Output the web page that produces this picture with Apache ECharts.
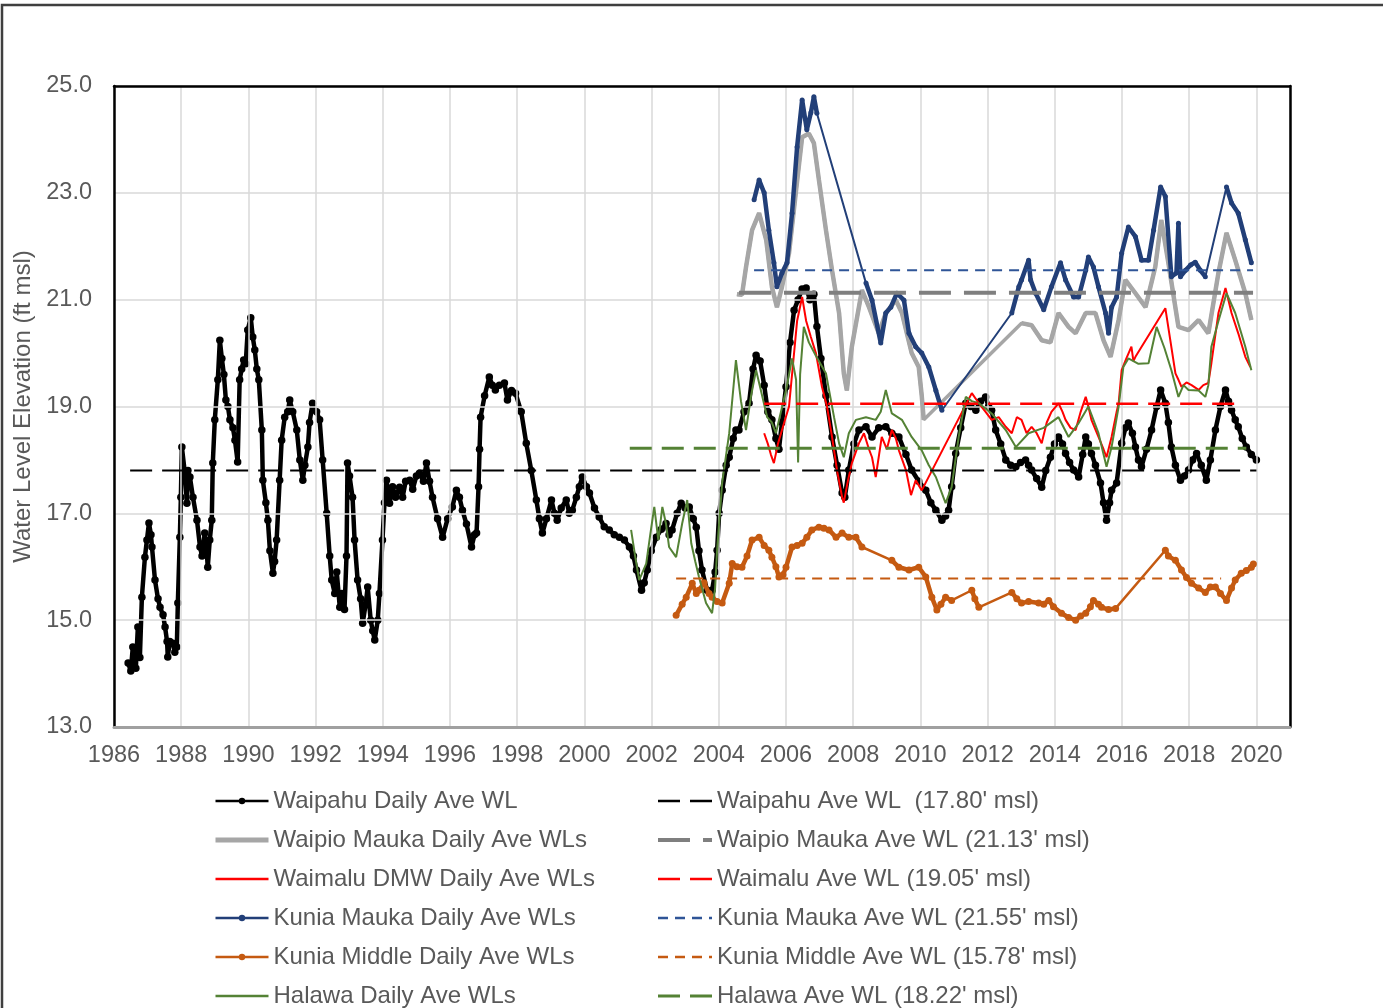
<!DOCTYPE html>
<html>
<head>
<meta charset="utf-8">
<script src="https://cdn.jsdelivr.net/npm/echarts@6/dist/echarts.min.js"></script>
<style>
html,body{margin:0;padding:0;background:#fff;}
#c{width:1383px;height:1008px;}
</style>
</head>
<body>
<div id="c"></div>
<script>
// ---- Axis settings ----
const xMin = 1986, xMax = 2021, xStep = 2;
const yMin = 13, yMax = 25, yStep = 2;

// ---- Series names ----
const dailyNames = ["Waipahu Daily Ave WL","Waipio Mauka Daily Ave WLs","Waimalu DMW Daily Ave WLs","Kunia Mauka Daily Ave WLs","Kunia Middle Daily Ave WLs","Halawa Daily Ave WLs"];
const aveNames = ["Waipahu Ave WL  (17.80' msl)","Waipio Mauka Ave WL (21.13' msl)","Waimalu Ave WL (19.05' msl)","Kunia Mauka Ave WL (21.55' msl)","Kunia Middle Ave WL (15.78' msl)","Halawa Ave WL (18.22' msl)"];

// ---- Average levels and their spans [start, end] ----
const aveLevels = [17.80, 21.13, 19.05, 21.55, 15.78, 18.22];
const aveSpans = [[1986.48,2020.0],[2004.6,2019.9],[2005.35,2019.46],[2005.05,2019.9],[2002.73,2018.95],[2001.35,2019.7]];

// ---- Daily series (year, water level ft msl) ----
const waipahu = [[1986.42,14.2],[1986.50,14.05],[1986.56,14.5],[1986.65,14.1],[1986.71,14.87],[1986.77,14.3],[1986.83,15.43],[1986.92,16.18],[1986.98,16.5],[1987.04,16.82],[1987.10,16.6],[1987.13,16.37],[1987.22,15.75],[1987.31,15.4],[1987.37,15.24],[1987.46,15.1],[1987.52,14.87],[1987.58,14.6],[1987.60,14.31],[1987.66,14.6],[1987.75,14.57],[1987.81,14.4],[1987.87,14.5],[1987.90,15.32],[1987.96,16.55],[1987.99,17.3],[1988.02,18.24],[1988.11,17.75],[1988.17,17.19],[1988.20,17.8],[1988.26,17.68],[1988.35,17.3],[1988.47,16.87],[1988.56,16.37],[1988.62,16.2],[1988.70,16.63],[1988.76,16.3],[1988.79,15.99],[1988.85,16.5],[1988.91,16.87],[1988.94,17.94],[1989.00,18.75],[1989.09,19.5],[1989.15,20.24],[1989.21,19.9],[1989.27,19.6],[1989.33,19.12],[1989.39,19.0],[1989.45,18.75],[1989.54,18.6],[1989.60,18.37],[1989.68,17.96],[1989.74,19.5],[1989.80,19.7],[1989.86,19.87],[1989.92,19.8],[1989.98,20.43],[1990.07,20.66],[1990.13,20.3],[1990.19,20.06],[1990.25,19.7],[1990.31,19.5],[1990.40,18.56],[1990.43,17.62],[1990.52,17.2],[1990.58,16.87],[1990.64,16.3],[1990.73,15.88],[1990.78,16.1],[1990.84,16.5],[1990.93,17.62],[1990.99,18.37],[1991.08,18.8],[1991.17,18.9],[1991.23,19.12],[1991.32,18.9],[1991.44,18.56],[1991.53,18.0],[1991.62,17.62],[1991.68,17.9],[1991.77,18.24],[1991.82,18.7],[1991.91,19.06],[1992.03,18.9],[1992.12,18.75],[1992.21,18.0],[1992.33,17.0],[1992.42,16.2],[1992.48,15.75],[1992.57,15.5],[1992.63,15.9],[1992.72,15.24],[1992.78,15.5],[1992.86,15.2],[1992.92,16.2],[1992.95,17.94],[1993.01,17.7],[1993.10,17.3],[1993.16,16.5],[1993.25,15.75],[1993.34,15.4],[1993.40,14.94],[1993.49,15.3],[1993.55,15.62],[1993.64,15.0],[1993.70,14.8],[1993.76,14.63],[1993.85,15.0],[1993.90,15.5],[1993.99,16.5],[1994.05,17.2],[1994.11,17.62],[1994.20,17.19],[1994.29,17.5],[1994.38,17.3],[1994.50,17.49],[1994.59,17.3],[1994.68,17.6],[1994.80,17.62],[1994.89,17.45],[1995.00,17.7],[1995.09,17.75],[1995.21,17.6],[1995.30,17.94],[1995.39,17.6],[1995.48,17.3],[1995.63,16.9],[1995.78,16.55],[1995.93,16.9],[1996.07,17.12],[1996.19,17.43],[1996.28,17.3],[1996.37,17.06],[1996.49,16.8],[1996.64,16.37],[1996.73,16.6],[1996.79,16.63],[1996.85,17.5],[1996.88,18.2],[1996.91,18.8],[1997.03,19.2],[1997.17,19.55],[1997.26,19.4],[1997.35,19.31],[1997.47,19.4],[1997.62,19.44],[1997.71,19.12],[1997.83,19.3],[1997.95,19.25],[1998.12,18.9],[1998.27,18.31],[1998.42,17.8],[1998.57,17.25],[1998.66,16.9],[1998.75,16.63],[1998.87,16.9],[1999.02,17.25],[1999.11,17.0],[1999.19,16.87],[1999.31,17.1],[1999.46,17.25],[1999.55,17.0],[1999.64,17.06],[1999.76,17.3],[1999.85,17.5],[1999.94,17.68],[2000.06,17.5],[2000.15,17.38],[2000.30,17.1],[2000.44,16.93],[2000.59,16.75],[2000.74,16.69],[2000.89,16.6],[2001.04,16.55],[2001.19,16.5],[2001.34,16.37],[2001.46,16.2],[2001.55,15.94],[2001.70,15.56],[2001.78,15.7],[2001.87,15.94],[2001.99,16.3],[2002.14,16.55],[2002.29,16.7],[2002.43,16.81],[2002.52,16.6],[2002.61,16.69],[2002.76,17.0],[2002.88,17.19],[2003.00,17.1],[2003.12,17.12],[2003.24,16.9],[2003.33,16.74],[2003.41,16.3],[2003.50,15.94],[2003.65,15.56],[2003.80,15.56],[2003.89,15.9],[2003.95,16.31],[2004.01,17.0],[2004.10,17.43],[2004.22,17.9],[2004.31,18.05],[2004.43,18.4],[2004.51,18.56],[2004.60,18.56],[2004.75,18.9],[2004.90,19.06],[2005.02,19.7],[2005.11,19.96],[2005.23,19.85],[2005.35,19.4],[2005.46,18.9],[2005.58,18.75],[2005.70,18.4],[2005.79,18.2],[2005.88,18.7],[2006.00,19.37],[2006.12,20.2],[2006.24,20.8],[2006.36,21.0],[2006.48,21.2],[2006.60,21.22],[2006.71,21.0],[2006.83,21.1],[2006.92,20.5],[2007.04,19.9],[2007.19,19.2],[2007.37,18.43],[2007.52,17.9],[2007.67,17.38],[2007.75,17.3],[2007.87,17.81],[2008.02,18.3],[2008.17,18.56],[2008.38,18.62],[2008.56,18.43],[2008.76,18.6],[2008.97,18.62],[2009.15,18.5],[2009.36,18.43],[2009.57,18.1],[2009.74,17.81],[2009.95,17.6],[2010.16,17.43],[2010.31,17.2],[2010.46,17.06],[2010.64,16.87],[2010.75,16.95],[2010.84,17.06],[2010.93,17.5],[2011.05,18.12],[2011.20,18.6],[2011.35,19.06],[2011.50,19.0],[2011.65,18.93],[2011.79,19.1],[2011.94,19.18],[2012.03,19.0],[2012.12,18.93],[2012.24,18.56],[2012.39,18.3],[2012.54,18.0],[2012.69,17.9],[2012.84,17.87],[2012.98,17.95],[2013.13,18.0],[2013.22,17.9],[2013.31,17.81],[2013.46,17.65],[2013.61,17.49],[2013.73,17.8],[2013.87,18.05],[2013.99,18.3],[2014.11,18.43],[2014.23,18.3],[2014.32,18.12],[2014.44,17.95],[2014.56,17.81],[2014.71,17.68],[2014.83,18.1],[2014.92,18.43],[2015.00,18.3],[2015.09,18.12],[2015.21,17.9],[2015.36,17.57],[2015.45,17.2],[2015.54,16.87],[2015.63,17.2],[2015.69,17.43],[2015.84,17.57],[2015.99,18.31],[2016.10,18.6],[2016.19,18.69],[2016.31,18.5],[2016.40,18.24],[2016.49,18.0],[2016.58,17.87],[2016.73,18.2],[2016.88,18.56],[2017.03,19.0],[2017.15,19.31],[2017.29,19.06],[2017.38,18.7],[2017.47,18.24],[2017.59,17.9],[2017.74,17.62],[2017.86,17.7],[2017.98,17.81],[2018.10,18.0],[2018.22,18.12],[2018.36,17.9],[2018.51,17.62],[2018.63,18.0],[2018.78,18.56],[2018.93,19.0],[2019.08,19.31],[2019.17,19.1],[2019.26,18.93],[2019.37,18.75],[2019.46,18.62],[2019.58,18.4],[2019.70,18.24],[2019.85,18.1],[2020.00,18.0]];

const waipioMauka = [[2004.54,21.1],[2004.69,21.09],[2004.81,21.61],[2004.99,22.3],[2005.20,22.62],[2005.41,22.12],[2005.58,21.24],[2005.73,20.86],[2005.88,21.24],[2006.09,21.87],[2006.30,23.05],[2006.48,24.04],[2006.68,24.11],[2006.83,23.93],[2006.98,23.24],[2007.19,22.3],[2007.37,21.55],[2007.58,20.75],[2007.72,19.62],[2007.81,19.3],[2007.96,20.12],[2008.26,21.18],[2008.47,20.86],[2008.76,20.37],[2008.97,20.75],[2009.27,20.99],[2009.45,20.75],[2009.74,20.0],[2009.95,19.74],[2010.04,19.2],[2010.10,18.75],[2013.01,20.56],[2013.31,20.52],[2013.61,20.24],[2013.87,20.2],[2014.11,20.75],[2014.41,20.49],[2014.62,20.37],[2014.92,20.75],[2015.21,20.75],[2015.45,20.24],[2015.66,19.93],[2015.90,20.62],[2016.10,21.37],[2016.40,21.12],[2016.70,20.86],[2016.99,21.61],[2017.17,22.49],[2017.38,21.69],[2017.68,20.49],[2017.98,20.43],[2018.28,20.62],[2018.57,20.37],[2018.87,21.5],[2019.11,22.25],[2019.37,21.74],[2019.67,21.12],[2019.85,20.62]];

const waimalu = [[2005.35,18.5],[2005.46,18.3],[2005.55,18.1],[2005.64,17.94],[2005.76,18.3],[2005.88,18.56],[2006.09,19.0],[2006.21,19.8],[2006.33,20.6],[2006.48,21.05],[2006.60,20.6],[2006.74,20.3],[2006.89,20.0],[2007.07,19.37],[2007.22,19.0],[2007.37,18.43],[2007.52,17.8],[2007.67,17.3],[2007.72,17.2],[2007.84,17.6],[2007.96,17.94],[2008.17,18.31],[2008.32,18.5],[2008.47,18.2],[2008.56,18.05],[2008.67,17.68],[2008.85,18.43],[2009.00,18.2],[2009.15,18.56],[2009.27,18.4],[2009.36,18.18],[2009.57,17.81],[2009.72,17.34],[2009.86,17.62],[2010.04,17.43],[2011.53,19.25],[2011.74,19.06],[2011.94,18.9],[2012.12,18.75],[2012.33,18.8],[2012.54,18.62],[2012.72,18.5],[2012.87,18.8],[2013.01,18.75],[2013.16,18.5],[2013.31,18.62],[2013.46,18.5],[2013.61,18.31],[2013.76,18.7],[2013.90,18.9],[2014.11,19.06],[2014.23,18.9],[2014.32,18.75],[2014.47,18.6],[2014.62,18.56],[2014.77,18.9],[2014.92,19.18],[2015.00,19.0],[2015.09,18.75],[2015.30,18.43],[2015.45,18.2],[2015.54,18.05],[2015.69,18.43],[2015.84,18.9],[2015.90,19.06],[2015.99,19.68],[2016.13,19.9],[2016.28,20.12],[2016.34,19.85],[2016.40,19.93],[2017.29,20.84],[2017.59,19.62],[2017.68,19.5],[2017.77,19.37],[2017.92,19.45],[2018.07,19.4],[2018.28,19.31],[2018.42,19.4],[2018.57,19.44],[2018.66,19.81],[2018.87,20.75],[2019.08,21.22],[2019.26,20.75],[2019.46,20.37],[2019.67,19.93],[2019.82,19.74]];

const kuniaMauka = [[2005.05,22.87],[2005.20,23.24],[2005.35,23.0],[2005.49,22.3],[2005.64,21.69],[2005.73,21.24],[2005.88,21.5],[2006.03,21.69],[2006.18,22.62],[2006.33,23.86],[2006.48,24.74],[2006.62,24.18],[2006.74,24.5],[2006.83,24.8],[2006.92,24.49],[2008.38,21.31],[2008.56,20.99],[2008.82,20.19],[2008.97,20.75],[2009.12,20.86],[2009.30,21.12],[2009.51,20.99],[2009.66,20.37],[2009.86,20.12],[2010.04,20.0],[2010.25,19.74],[2010.46,19.3],[2010.64,18.93],[2012.72,20.75],[2012.93,21.24],[2013.01,21.37],[2013.22,21.74],[2013.28,21.37],[2013.43,21.12],[2013.67,20.81],[2013.90,21.24],[2014.17,21.69],[2014.32,21.37],[2014.56,21.05],[2014.71,21.05],[2014.92,21.55],[2015.00,21.8],[2015.15,21.61],[2015.30,21.24],[2015.51,20.75],[2015.60,20.37],[2015.69,20.86],[2015.84,21.05],[2015.99,21.87],[2016.19,22.36],[2016.40,22.18],[2016.58,21.74],[2016.79,21.74],[2016.94,22.3],[2017.15,23.11],[2017.29,22.93],[2017.47,21.43],[2017.62,21.5],[2017.68,22.43],[2017.74,21.43],[2017.89,21.55],[2018.04,21.65],[2018.18,21.7],[2018.33,21.55],[2018.48,21.43],[2019.11,23.11],[2019.26,22.81],[2019.46,22.62],[2019.67,22.12],[2019.85,21.69]];

const kuniaMiddle = [[2002.73,15.09],[2002.91,15.3],[2003.03,15.43],[2003.21,15.69],[2003.33,15.5],[2003.41,15.56],[2003.56,15.7],[2003.71,15.5],[2003.80,15.43],[2003.95,15.35],[2004.10,15.32],[2004.31,15.69],[2004.40,16.06],[2004.54,16.0],[2004.69,15.99],[2004.84,16.2],[2004.99,16.5],[2005.20,16.55],[2005.35,16.4],[2005.49,16.31],[2005.58,16.18],[2005.70,16.0],[2005.79,15.81],[2005.91,15.85],[2006.00,15.99],[2006.18,16.37],[2006.33,16.4],[2006.48,16.44],[2006.62,16.55],[2006.77,16.69],[2006.98,16.74],[2007.13,16.72],[2007.28,16.69],[2007.49,16.55],[2007.67,16.63],[2007.87,16.55],[2008.08,16.55],[2008.26,16.37],[2009.15,16.12],[2009.36,15.99],[2009.66,15.94],[2009.95,15.99],[2010.16,15.81],[2010.34,15.43],[2010.49,15.19],[2010.61,15.3],[2010.75,15.43],[2010.93,15.37],[2011.53,15.56],[2011.62,15.4],[2011.74,15.24],[2012.72,15.52],[2012.87,15.4],[2013.01,15.32],[2013.22,15.35],[2013.52,15.32],[2013.67,15.3],[2013.82,15.37],[2013.96,15.25],[2014.20,15.13],[2014.41,15.05],[2014.62,15.0],[2014.77,15.08],[2014.92,15.13],[2015.06,15.25],[2015.15,15.37],[2015.30,15.3],[2015.39,15.24],[2015.60,15.2],[2015.81,15.22],[2017.29,16.31],[2017.38,16.2],[2017.59,16.12],[2017.77,15.94],[2017.92,15.8],[2018.07,15.69],[2018.28,15.6],[2018.48,15.52],[2018.63,15.62],[2018.78,15.62],[2018.93,15.5],[2019.11,15.37],[2019.26,15.6],[2019.37,15.75],[2019.55,15.88],[2019.70,15.93],[2019.85,15.99],[2019.91,16.05]];

const halawa = [[2001.39,16.69],[2001.51,16.2],[2001.63,15.75],[2001.84,16.06],[2001.96,16.6],[2002.08,17.12],[2002.20,16.5],[2002.32,17.12],[2002.43,16.8],[2002.52,16.37],[2002.73,16.18],[2002.91,16.81],[2003.06,17.25],[2003.18,16.44],[2003.30,16.1],[2003.41,15.81],[2003.62,15.32],[2003.80,15.13],[2003.89,15.6],[2003.95,16.31],[2004.10,17.57],[2004.31,18.5],[2004.51,19.87],[2004.66,19.1],[2004.81,18.56],[2004.96,19.2],[2005.11,19.68],[2005.29,19.2],[2005.44,18.8],[2005.58,18.7],[2005.70,18.5],[2005.85,18.9],[2006.00,19.3],[2006.18,19.9],[2006.30,19.5],[2006.36,17.95],[2006.42,19.6],[2006.53,20.49],[2006.68,20.2],[2006.89,19.95],[2007.19,19.62],[2007.28,19.31],[2007.43,18.8],[2007.58,18.31],[2007.72,18.05],[2007.87,18.5],[2008.08,18.75],[2008.38,18.8],[2008.67,18.75],[2008.82,18.9],[2008.97,19.31],[2009.15,18.87],[2009.45,18.75],[2009.74,18.43],[2010.04,18.18],[2010.25,17.9],[2010.46,17.68],[2010.75,17.19],[2010.93,17.49],[2011.14,18.43],[2011.35,19.18],[2011.53,19.1],[2011.74,19.06],[2012.12,18.87],[2012.54,18.56],[2012.84,18.24],[2013.22,18.5],[2013.67,18.6],[2014.11,18.8],[2014.41,18.43],[2014.71,18.69],[2015.00,19.0],[2015.30,18.5],[2015.54,17.87],[2015.69,18.24],[2015.90,19.0],[2016.04,19.74],[2016.19,19.9],[2016.49,19.8],[2016.79,19.81],[2017.03,20.49],[2017.26,20.1],[2017.47,19.68],[2017.68,19.18],[2017.83,19.4],[2017.98,19.31],[2018.28,19.3],[2018.48,19.18],[2018.57,19.4],[2018.66,20.12],[2018.87,20.6],[2019.11,21.12],[2019.37,20.75],[2019.67,20.12],[2019.85,19.68]];

const dailyData = [waipahu, waipioMauka, waimalu, kuniaMauka, kuniaMiddle, halawa];

// ---- Styles ----
const TXT = '#595959';
const FONT = 'Liberation Sans, Arial, sans-serif';
const dailyStyles = [
  {color:'#000000', width:4.5, gapWidth:4.5, symbol:'circle', size:7.5, legendDot:true, legendWidth:2.5},
  {color:'#a6a6a6', width:4.5, gapWidth:3.5, symbol:'none', size:0, legendDot:false, legendWidth:5},
  {color:'#ff0000', width:2, gapWidth:2, symbol:'none', size:0, legendDot:false, legendWidth:2.5},
  {color:'#223f78', width:4.5, gapWidth:2, symbol:'circle', size:5, legendDot:true, legendWidth:2.5},
  {color:'#c55a11', width:4.5, gapWidth:2.5, symbol:'circle', size:7, legendDot:true, legendWidth:2.5},
  {color:'#548235', width:2, gapWidth:2, symbol:'none', size:0, legendDot:false, legendWidth:2.5}
];
const aveStyles = [
  {color:'#000000', width:2, dash:[22,10], legendWidth:2.5},
  {color:'#7f7f7f', width:4, dash:[32,13], legendWidth:4},
  {color:'#ff0000', width:2.5, dash:[22,10], legendWidth:2.5},
  {color:'#2f5597', width:2, dash:[10,7], legendWidth:2.5},
  {color:'#c55a11', width:2, dash:[10,7], legendWidth:2.5},
  {color:'#548235', width:3, dash:[22,10], legendWidth:3}
];

function denseRuns(arr, gap){
  const out = [];
  for (let i=0;i<arr.length;i++){
    if (i>0 && arr[i][0]-arr[i-1][0] > gap) out.push(null);
    out.push(arr[i]);
  }
  return out;
}

const series = [];
dailyNames.forEach((n,i)=>{
  const s = dailyStyles[i];
  if (s.gapWidth !== s.width){
    series.push({
      name:n+' (gap)', type:'line', data:dailyData[i],
      symbol:'none', showSymbol:false,
      lineStyle:{color:s.color, width:s.gapWidth},
      animation:false, silent:true, z:2+i
    });
  }
  series.push({
    name:n, type:'line',
    data: s.gapWidth !== s.width ? denseRuns(dailyData[i], 0.45) : dailyData[i],
    connectNulls:false,
    symbol:s.symbol, symbolSize:s.size, showSymbol:s.symbol!=='none', showAllSymbol:true,
    lineStyle:{color:s.color, width:s.width},
    itemStyle:{color:s.color},
    animation:false, silent:true, z:2+i
  });
});
aveNames.forEach((n,i)=>{
  const s = aveStyles[i];
  series.push({
    name:n, type:'line',
    data:[[aveSpans[i][0], aveLevels[i]],[aveSpans[i][1], aveLevels[i]]],
    symbol:'none', showSymbol:false,
    lineStyle:{color:s.color, width:s.width, type:s.dash},
    itemStyle:{color:s.color},
    animation:false, silent:true, z:10
  });
});

const hidden = {color:'rgba(0,0,0,0)', borderWidth:0, borderColor:'rgba(0,0,0,0)'};
const leftLegendData = dailyNames.map((n,i)=> {
  const s = dailyStyles[i];
  const item = {name:n, lineStyle:{width:s.legendWidth}};
  if (!s.legendDot) item.itemStyle = hidden;
  return item;
});
const rightLegendData = aveNames.map((n,i)=>({name:n, itemStyle:hidden, lineStyle:{width:aveStyles[i].legendWidth}}));

const chart = echarts.init(document.getElementById('c'), null, {renderer:'canvas'});
chart.setOption({
  backgroundColor:'#ffffff',
  animation:false,
  textStyle:{fontFamily:FONT},
  graphic:[{
    type:'rect', z:100, silent:true,
    shape:{x:2, y:5, width:1500, height:1200},
    style:{fill:'none', stroke:'#3f3f3f', lineWidth:2.5}
  }],
  grid:{left:114, top:86, right:93, bottom:281, show:false, containLabel:false, outerBoundsMode:'none'},
  xAxis:[{
    type:'value', min:xMin, max:xMax, interval:xStep,
    axisLine:{show:true, onZero:false, lineStyle:{color:'#a0a0a0', width:3}},
    axisTick:{show:false},
    axisLabel:{color:TXT, fontSize:23.5, fontFamily:FONT, margin:17, showMaxLabel:false, formatter:v=>String(v)},
    splitLine:{show:true, lineStyle:{color:'#d9d9d9', width:1.5}},
    z:3
  },{
    type:'value', position:'top', min:xMin, max:xMax, interval:xStep,
    axisLine:{show:true, onZero:false, lineStyle:{color:'#000', width:2.5}},
    axisTick:{show:false}, axisLabel:{show:false}, splitLine:{show:false}, z:3
  }],
  yAxis:[{
    type:'value', min:yMin, max:yMax, interval:yStep,
    name:'Water Level Elevation (ft msl)', nameLocation:'middle', nameGap:76, nameRotate:90,
    nameTextStyle:{color:TXT, fontSize:24, fontFamily:FONT},
    axisLine:{show:true, onZero:false, lineStyle:{color:'#000', width:2.5}},
    axisTick:{show:false},
    axisLabel:{color:TXT, fontSize:23.5, fontFamily:FONT, margin:22, formatter:v=>v.toFixed(1)},
    splitLine:{show:true, lineStyle:{color:'#d9d9d9', width:1.5}},
    z:3
  },{
    type:'value', position:'right', min:yMin, max:yMax, interval:yStep,
    axisLine:{show:true, onZero:false, lineStyle:{color:'#000', width:2.5}},
    axisTick:{show:false}, axisLabel:{show:false}, splitLine:{show:false}, z:3
  }],
  legend:[
    {data:leftLegendData, orient:'vertical', left:213, top:789, width:420, height:300, padding:0, itemGap:15, itemWidth:53, itemHeight:8,
     textStyle:{color:TXT, fontSize:24, fontFamily:FONT, lineHeight:24}, selectedMode:false},
    {data:rightLegendData, orient:'vertical', left:656, top:789, width:500, height:300, padding:0, itemGap:15, itemWidth:54, itemHeight:8,
     textStyle:{color:TXT, fontSize:24, fontFamily:FONT, lineHeight:24}, selectedMode:false}
  ],
  series:series
});
</script>
</body>
</html>
